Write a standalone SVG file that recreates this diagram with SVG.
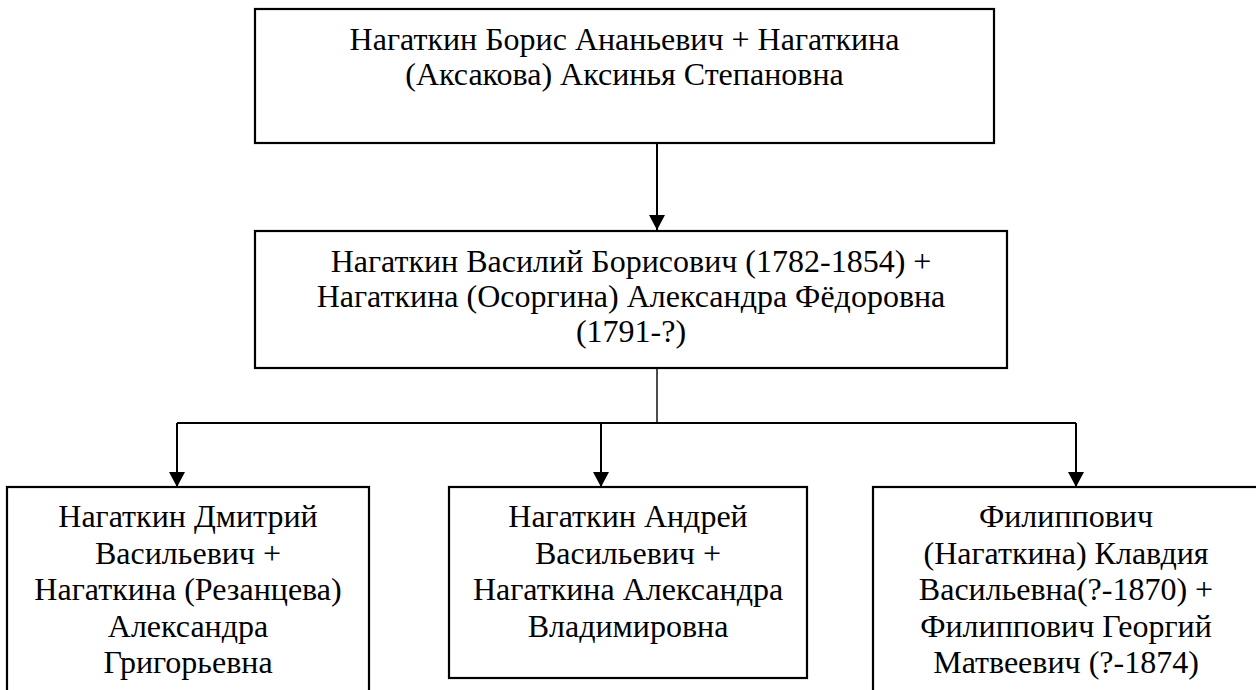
<svg xmlns="http://www.w3.org/2000/svg" width="1256" height="690" viewBox="0 0 1256 690">
<defs>
<style>
.box{fill:#fff;stroke:#000;stroke-width:2.2}
.t{font-family:'Liberation Serif','Times New Roman','DejaVu Serif',serif;font-size:32px;fill:#000;text-anchor:middle}
.c{fill:none;stroke:#000;stroke-width:2}
</style>
<marker id="ah" markerWidth="16" markerHeight="16" refX="15" refY="8" orient="auto" markerUnits="userSpaceOnUse">
<path d="M0,0 L15,8 L0,16 Z" fill="#000"/>
</marker>
</defs>
<rect width="1256" height="690" fill="#fff"/>
<g id="connectors">
<line class="c" x1="657" y1="143" x2="657" y2="230" marker-end="url(#ah)"/>
<line x1="657" y1="368" x2="657" y2="423" stroke="#000" stroke-width="1.4"/>
<polyline class="c" points="177,423 1076,423"/>
<line class="c" x1="177" y1="423" x2="177" y2="487" marker-end="url(#ah)"/>
<line class="c" x1="601" y1="423" x2="601" y2="487" marker-end="url(#ah)"/>
<line class="c" x1="1076" y1="423" x2="1076" y2="487" marker-end="url(#ah)"/>
</g>
<g id="n1" font-family="Liberation Serif, Times New Roman, serif">
<rect class="box" x="255" y="9" width="739" height="134"/>
<text class="t" x="624.5" y="50">Нагаткин Борис Ананьевич + Нагаткина</text>
<text class="t" x="624.5" y="84.5">(Аксакова) Аксинья Степановна</text>
</g>
<g id="n2" font-family="Liberation Serif, Times New Roman, serif">
<rect class="box" x="255" y="231" width="752" height="137"/>
<text class="t" x="631" y="272">Нагаткин Василий Борисович (1782-1854) +</text>
<text class="t" x="631" y="307">Нагаткина (Осоргина) Александра Фёдоровна</text>
<text class="t" x="631" y="342">(1791-?)</text>
</g>
<g id="n3" font-family="Liberation Serif, Times New Roman, serif">
<rect class="box" x="7" y="487" width="362" height="215"/>
<text class="t" x="188" y="527">Нагаткин Дмитрий</text>
<text class="t" x="188" y="563.5">Васильевич +</text>
<text class="t" x="188" y="600">Нагаткина (Резанцева)</text>
<text class="t" x="188" y="636.5">Александра</text>
<text class="t" x="188" y="673">Григорьевна</text>
</g>
<g id="n4" font-family="Liberation Serif, Times New Roman, serif">
<rect class="box" x="449" y="487" width="358" height="191"/>
<text class="t" x="628" y="527">Нагаткин Андрей</text>
<text class="t" x="628" y="563.5">Васильевич +</text>
<text class="t" x="628" y="600">Нагаткина Александра</text>
<text class="t" x="628" y="636.5">Владимировна</text>
</g>
<g id="n5" font-family="Liberation Serif, Times New Roman, serif">
<rect class="box" x="873" y="487" width="386" height="215"/>
<text class="t" x="1066" y="527">Филиппович</text>
<text class="t" x="1066" y="563.5">(Нагаткина) Клавдия</text>
<text class="t" x="1066" y="600">Васильевна(?-1870) +</text>
<text class="t" x="1066" y="636.5">Филиппович Георгий</text>
<text class="t" x="1066" y="673">Матвеевич (?-1874)</text>
</g>
</svg>
